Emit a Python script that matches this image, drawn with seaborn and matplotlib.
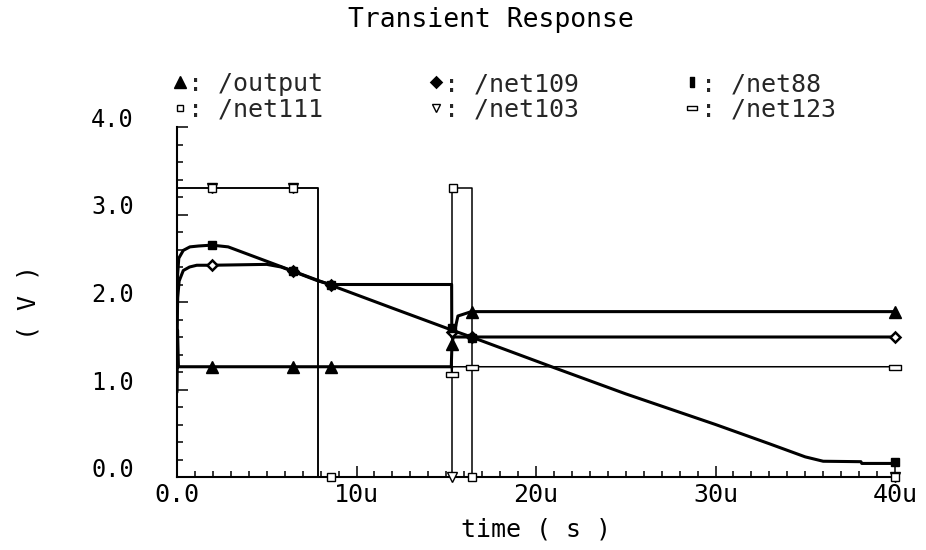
import matplotlib
matplotlib.use("Agg")
import matplotlib.pyplot as plt
import seaborn as sns
import pandas as pd
from matplotlib.lines import Line2D
from matplotlib.ticker import MultipleLocator, FixedLocator

# ---------------- data (time in microseconds, voltage in V) ----------------
series_names = ["/output", "/net109", "/net88", "/net111", "/net103", "/net123"]

output_t = [0.0, 0.03, 0.08, 15.28, 15.32, 15.65, 16.4, 40.0]
output_v = [0.97, 1.68, 1.26, 1.26, 1.53, 1.84, 1.89, 1.89]
output_mt = [1.93, 6.46, 8.6, 15.3, 16.45, 40.0]
output_mv = [1.26, 1.26, 1.26, 1.52, 1.89, 1.89]

net109_t = [0.0, 0.04, 0.12, 0.35, 0.7, 1.1, 1.93, 5.0, 5.8, 6.46, 7.87, 8.6, 15.3, 15.31, 40.0]
net109_v = [1.68, 2.05, 2.24, 2.36, 2.40, 2.42, 2.42, 2.43, 2.40, 2.35, 2.24, 2.20, 2.20, 1.60, 1.60]
net109_mt = [1.93, 6.46, 8.6, 15.3, 16.45, 40.0]
net109_mv = [2.42, 2.35, 2.20, 1.66, 1.60, 1.60]

net88_t = [0.0, 0.03, 0.1, 0.35, 0.72, 1.2, 1.93, 2.85, 8.6, 12.0, 15.3, 16.4, 21.0, 25.0,
           30.0, 33.0, 35.0, 36.0, 38.1, 38.15, 40.0]
net88_v = [1.68, 2.30, 2.50, 2.59, 2.63, 2.64, 2.65, 2.63, 2.19, 1.93, 1.68, 1.60, 1.25, 0.95,
           0.60, 0.38, 0.23, 0.18, 0.175, 0.155, 0.155]
net88_mt = [1.93, 6.46, 8.6, 15.3, 16.45, 40.0]
net88_mv = [2.65, 2.35, 2.19, 1.70, 1.59, 0.17]

net111_t = [0.0, 7.87, 7.87, 15.33, 15.33, 16.42, 16.42, 40.0]
net111_v = [3.3, 3.3, 0.0, 0.0, 3.3, 3.3, 0.0, 0.0]
net111_mt = [1.93, 6.46, 8.6, 15.4, 16.45, 40.0]
net111_mv = [3.3, 3.3, 0.0, 3.3, 0.0, 0.0]

net103_t = [0.0, 7.87, 7.87, 40.0]
net103_v = [3.3, 3.3, 0.0, 0.0]
net103_mt = [1.93, 6.46, 15.3, 40.0]
net103_mv = [3.3, 3.3, 0.0, 0.0]

net123_t = [0.0, 15.28, 15.3, 15.35, 40.0]
net123_v = [1.26, 1.26, 1.18, 1.26, 1.26]
net123_mt = [15.3, 16.45, 40.0]
net123_mv = [1.18, 1.26, 1.26]

x_ticks = [0, 10, 20, 30, 40]
x_ticklabels = ["0.0", "10u", "20u", "30u", "40u"]
y_ticks = [0, 1, 2, 3, 4]
y_ticklabels = ["0.0", "1.0", "2.0", "3.0", "4.0"]

# ---------------- style ----------------
sns.set_theme(style="white")
FONT = ["DejaVu Sans Mono", "DejaVu Sans"]
plt.rcParams["font.family"] = FONT
FS = 18

wide_rect = [(-1, -0.45), (1, -0.45), (1, 0.45), (-1, 0.45), (-1, -0.45)]
tall_rect = [(-0.5, -1), (0.5, -1), (0.5, 1), (-0.5, 1), (-0.5, -1)]

styles = {
    "/output": dict(lw=2.2, marker="^", ms=9, mfc="black", mew=1.0, lms=8),
    "/net109": dict(lw=2.2, marker="D", ms=5.5, mfc="white", mew=1.8, lms=5),
    "/net88": dict(lw=2.2, marker="s", ms=6, mfc="black", mew=1.0, lms=None),
    "/net111": dict(lw=1.1, marker="s", ms=5.5, mfc="white", mew=1.0, lms=5),
    "/net103": dict(lw=1.1, marker="v", ms=6.5, mfc="white", mew=1.0, lms=6),
    "/net123": dict(lw=1.1, marker=wide_rect, ms=8, mfc="white", mew=1.0, lms=7),
}

lines = {
    "/output": (output_t, output_v, output_mt, output_mv),
    "/net109": (net109_t, net109_v, net109_mt, net109_mv),
    "/net88": (net88_t, net88_v, net88_mt, net88_mv),
    "/net111": (net111_t, net111_v, net111_mt, net111_mv),
    "/net103": (net103_t, net103_v, net103_mt, net103_mv),
    "/net123": (net123_t, net123_v, net123_mt, net123_mv),
}

fig = plt.figure(figsize=(9.26, 5.5), dpi=100)
ax = fig.add_axes([177 / 926, 1 - 477 / 550, (895 - 177) / 926, (477 - 127) / 550])

draw_order = ["/net123", "/net103", "/net111", "/output", "/net109", "/net88"]
for name in draw_order:
    t, v, mt, mv = lines[name]
    st = styles[name]
    df = pd.DataFrame({"t": t, "v": v})
    sns.lineplot(data=df, x="t", y="v", sort=False, estimator=None, ax=ax,
                 color="black", lw=st["lw"], zorder=3)
    ax.plot(mt, mv, linestyle="none", marker=st["marker"], ms=st["ms"],
            mfc=st["mfc"], mec="black", mew=st["mew"], zorder=4, clip_on=False)

ax.set_xlim(0, 40)
ax.set_ylim(0, 4)

for s in ["top", "right"]:
    ax.spines[s].set_visible(False)
for s in ["left", "bottom"]:
    ax.spines[s].set_color("black")
    ax.spines[s].set_linewidth(1.5)

ax.xaxis.set_major_locator(FixedLocator(x_ticks))
ax.xaxis.set_minor_locator(MultipleLocator(1))
ax.yaxis.set_major_locator(FixedLocator(y_ticks))
ax.yaxis.set_minor_locator(MultipleLocator(0.2))
ax.set_xticklabels(x_ticklabels)
ax.set_yticklabels(y_ticklabels)

ax.tick_params(which="both", direction="in", color="black", width=1.1,
               bottom=True, left=True, top=False, right=False)
ax.tick_params(which="major", length=8)
ax.tick_params(which="minor", length=4.5)
ax.tick_params(axis="x", which="major", labelsize=FS, pad=4, labelcolor="black")
ax.tick_params(axis="y", which="major", labelsize=FS - 1, pad=31, labelcolor="black")
for lab in ax.get_yticklabels():
    lab.set_verticalalignment("baseline")

ax.set_xlabel("time ( s )", fontsize=FS, color="black")
ax.xaxis.set_label_coords(0.5, -0.151)
ax.xaxis.label.set_verticalalignment("center")
ax.set_ylabel("( V )", fontsize=FS, color="black")
ax.yaxis.set_label_coords(-0.2075, 0.5)
ax.yaxis.label.set_verticalalignment("center")

fig.text(491 / 926, 1 - 20 / 550, "Transient Response", ha="center", va="center",
         fontsize=FS + 1, color="black")

# legend (column-major order for ncol=3)
leg_order = ["/output", "/net111", "/net109", "/net103", "/net88", "/net123"]
handles = []
for name in leg_order:
    st = styles[name]
    if name == "/net88":
        handles.append(Line2D([], [], linestyle="none", marker=tall_rect, ms=7,
                              mfc="black", mec="black", mew=1.0))
    else:
        handles.append(Line2D([], [], linestyle="none", marker=st["marker"], ms=st["lms"],
                              mfc=st["mfc"] if name != "/net109" else "black",
                              mec="black", mew=st["mew"]))
labels = [": " + n for n in leg_order]
fig.legend(handles, labels, ncol=3, loc="upper left", bbox_to_anchor=(172 / 926, 1 - 72 / 550),
           frameon=False, fontsize=FS, handlelength=0.6, handletextpad=0.05,
           columnspacing=4.2, labelspacing=0.05, borderaxespad=0, borderpad=0)

fig.savefig("out.png", dpi=100, facecolor="white")
